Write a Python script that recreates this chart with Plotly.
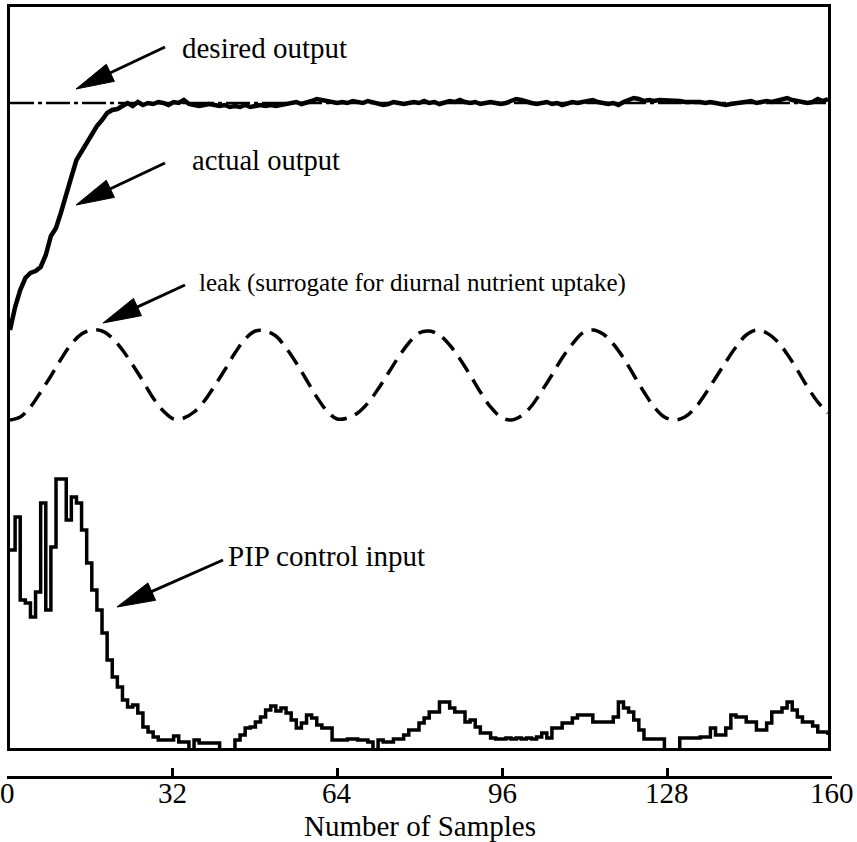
import plotly.graph_objects as go

# ---- data (sample index 0..160, vertical units = height above the frame bottom) ----
samples = list(range(161))

desired_x = [0, 160]
desired_output = [645, 645]

actual_output = [
    418, 441, 458, 470, 475, 477, 481, 493, 512, 520, 536, 555, 571, 588, 597, 605,
    613, 622, 628, 635, 638, 639, 642,
    645, 642, 646, 643, 645, 644, 646, 645, 643, 646,
    645, 648, 644, 643, 642, 643, 644, 643, 642, 643,
    641, 642, 641, 643, 641, 642, 643, 642, 643, 642,
    643, 644, 645, 646, 644, 645, 647, 649, 648, 648,
    647, 645, 646, 645, 647, 646, 645, 647, 646, 645,
    643, 644, 646, 645, 644, 645, 646, 645, 647, 645,
    646, 644, 645, 647, 646, 648, 646, 645, 646, 644,
    645, 646, 645, 644, 645, 647, 649, 648, 646, 645,
    644, 645, 646, 644, 645, 643, 645, 646, 645, 646,
    647, 648, 646, 645, 644, 645, 643, 646, 648, 650,
    649, 647, 648, 647, 648, 648, 647, 648, 647, 646,
    646, 647, 646, 645, 646, 645, 644, 643, 644, 645,
    646, 647, 647, 645, 646, 647, 646, 647, 648, 650,
    648, 647, 646, 645, 646, 649, 647, 649,
]

leak_x = list(range(0, 161, 2))
leak = [
    328, 331, 341, 356, 372, 389, 404, 414, 418,
    417, 410, 398, 383, 367, 350, 337, 329,
    330, 336, 347, 362, 378, 395, 409, 417,
    417, 412, 400, 385, 368, 351, 337, 329,
    330, 335, 345, 359, 375, 391, 405, 415,
    417, 413, 403, 389, 373, 356, 341, 331,
    328, 332, 342, 357, 373, 390, 404, 415,
    418, 414, 404, 390, 373, 356, 341, 331,
    328, 331, 340, 354, 370, 386, 401, 413,
    418, 415, 407, 394, 378, 361, 346, 335,
]

pip_input = [
    198, 231, 148, 145, 131, 156, 245, 138, 201, 269,
    269, 228, 251, 245, 218, 185, 158, 138, 115, 88,
    71, 61, 48, 41, 43, 35, 21, 16, 11, 8,
    8, 8, 12, 6, 6, -6, 8, 5, 5, 5,
    5, -6, -6, -6, 8, 13, 20, 21, 26, 31,
    38, 42, 37, 40, 35, 28, 20, 25, 33, 30,
    23, 20, 20, 8, 8, 8, 9, 9, 8, 8,
    6, -6, 8, 6, 6, 9, 9, 13, 18, 18,
    25, 30, 36, 36, 46, 46, 40, 36, 36, 26,
    28, 21, 15, 15, 10, 9, 9, 10, 9, 10,
    9, 10, 9, 11, 15, 10, 20, 20, 25, 25,
    30, 33, 33, 33, 26, 26, 26, 26, 31, 46,
    40, 36, 28, 18, 9, 9, 9, 9, -6, -6,
    -6, 10, 10, 10, 10, 11, 11, 20, 13, 13,
    20, 33, 31, 31, 26, 26, 18, 18, 25, 36,
    36, 40, 46, 38, 31, 26, 26, 22, 16, 16,
    13,
]

tick_vals = [0, 32, 64, 96, 128, 160]
tick_text = ["0", "32", "64", "96", "128", "160"]

# ---- page geometry ----
W, H = 857, 842
FONT = "Liberation Serif"


def paper(px, py):
    return px / W, 1 - py / H


fig = go.Figure()

fig.add_trace(go.Scatter(
    x=desired_x, y=desired_output, mode="lines",
    line=dict(color="black", width=2.5, dash="24px,4px,4px,4px"),
    showlegend=False, hoverinfo="skip"))

fig.add_trace(go.Scatter(
    x=samples, y=actual_output, mode="lines",
    line=dict(color="black", width=4.5),
    showlegend=False, hoverinfo="skip"))

fig.add_trace(go.Scatter(
    x=leak_x, y=leak, mode="lines",
    line=dict(color="black", width=3.5, dash="17px,9px", shape="spline"),
    showlegend=False, hoverinfo="skip"))

fig.add_trace(go.Scatter(
    x=samples, y=pip_input, mode="lines",
    line=dict(color="black", width=3.5, shape="hv"),
    showlegend=False, hoverinfo="skip"))

# separate sample-count scale beneath the frame
fig.add_trace(go.Scatter(
    x=[0, 160], y=[0, 0], mode="lines", line=dict(width=0),
    xaxis="x2", yaxis="y2", showlegend=False, hoverinfo="skip"))

x0, y_bot = paper(10, 748)
x1, y_top = paper(828, 7)

fig.update_layout(
    width=W, height=H,
    margin=dict(l=0, r=0, t=0, b=0, autoexpand=False),
    paper_bgcolor="white", plot_bgcolor="white",
    font=dict(family=FONT, color="black"),
    xaxis=dict(domain=[x0, x1], range=[0, 160], showline=True, mirror=True,
               linecolor="black", linewidth=3, ticks="", showticklabels=False,
               showgrid=False, zeroline=False, fixedrange=True),
    yaxis=dict(domain=[y_bot, y_top], range=[0, 741], showline=True, mirror=True,
               linecolor="black", linewidth=3, ticks="", showticklabels=False,
               showgrid=False, zeroline=False, fixedrange=True),
    xaxis2=dict(domain=[paper(7, 0)[0], paper(832, 0)[0]], range=[0, 160],
                anchor="y2", showline=True, linecolor="black", linewidth=2.5,
                ticks="inside", ticklen=8, tickwidth=2.5, tickcolor="black",
                tickvals=tick_vals, showticklabels=False,
                showgrid=False, zeroline=False, fixedrange=True),
    yaxis2=dict(domain=[paper(0, 776)[1], paper(0, 770)[1]], range=[0, 1],
                visible=False, fixedrange=True),
)

annotations = []

# tick labels and axis title of the sample-count scale
for v, t in zip(tick_vals, tick_text):
    annotations.append(dict(
        text=t, x=v, y=paper(0, 793)[1], xref="x2", yref="paper",
        xanchor="center", yanchor="middle", showarrow=False,
        font=dict(family=FONT, size=29, color="black")))
annotations.append(dict(
    text="Number of Samples", x=80, y=paper(0, 826)[1], xref="x2", yref="paper",
    xanchor="center", yanchor="middle", showarrow=False,
    font=dict(family=FONT, size=29, color="black")))

# ---- labels with pointer arrows ----
labels = [
    ("desired output", 29, (180, 48), (165, 47), (76, 89)),
    ("actual output", 28.5, (190, 161), (165, 163), (76, 205)),
    ("leak (surrogate for diurnal nutrient uptake)", 25, (197, 283), (185, 285), (103, 323)),
    ("PIP control input", 29, (226, 556), (223, 560), (117, 607)),
]

shapes = []
for text, size, (tx, ty), tail, tip in labels:
    ax, ay = paper(tx, ty)
    annotations.append(dict(
        text=text, x=ax, y=ay, xref="paper", yref="paper",
        xanchor="left", yanchor="middle", showarrow=False,
        font=dict(family=FONT, size=size, color="black")))

    dx, dy = tip[0] - tail[0], tip[1] - tail[1]
    length = (dx * dx + dy * dy) ** 0.5
    ux, uy = dx / length, dy / length
    head_len, head_w = 38, 19
    bx, by = tip[0] - ux * head_len, tip[1] - uy * head_len
    nx, ny = -uy, ux
    c1 = (bx + nx * head_w / 2, by + ny * head_w / 2)
    c2 = (bx - nx * head_w / 2, by - ny * head_w / 2)

    sx0, sy0 = paper(*tail)
    sx1, sy1 = paper(bx + ux * 4, by + uy * 4)
    shapes.append(dict(type="line", xref="paper", yref="paper",
                       x0=sx0, y0=sy0, x1=sx1, y1=sy1,
                       line=dict(color="black", width=3)))
    pts = [paper(*tip), paper(*c1), paper(*c2)]
    path = "M {} {} L {} {} L {} {} Z".format(
        pts[0][0], pts[0][1], pts[1][0], pts[1][1], pts[2][0], pts[2][1])
    shapes.append(dict(type="path", xref="paper", yref="paper", path=path,
                       fillcolor="black", line=dict(color="black", width=1)))

fig.update_layout(shapes=shapes, annotations=annotations)

fig.write_html("out.html")
